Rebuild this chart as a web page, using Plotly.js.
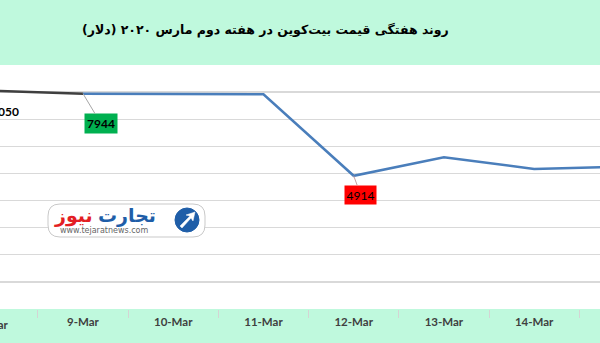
<!DOCTYPE html>
<html>
<head>
<meta charset="utf-8">
<script src="https://cdn.plot.ly/plotly-3.0.1.min.js"></script>
<style>html,body{margin:0;padding:0;background:#fff;}#chart{width:600px;height:343px;}</style>
</head>
<body>
<div id="chart"></div>
<script>
// ---- data ----
var categories = ['8-Mar', '9-Mar', '10-Mar', '11-Mar', '12-Mar', '13-Mar', '14-Mar', '15-Mar'];
var prices = [8050, 7944, 7920, 7918, 4914, 5600, 5165, 5250];
var titleText = 'روند هفتگی قیمت بیت\u200cکوین در هفته دوم مارس ۲۰۲۰ (دلار)';
var logoBrand1 = 'تجارت';
var logoBrand2 = 'نیوز';
var logoUrl = 'www.tejaratnews.com';

// ---- layout helpers ----
var W = 600, H = 343, T = 65, B = 34;
var xRange = [0.08, 6.73];
var ph = H - T - B;
function px(x) { return x / W; }
function py(y) { return (H - B - y) / ph; }

var traces = [
  { type: 'scatter', mode: 'lines', x: categories.slice(0, 2), y: prices.slice(0, 2),
    line: { color: '#3f3f3f', width: 2.5 }, hoverinfo: 'skip', showlegend: false },
  { type: 'scatter', mode: 'lines', x: categories.slice(1), y: prices.slice(1),
    line: { color: '#4a7ebb', width: 2.5 }, hoverinfo: 'skip', showlegend: false }
];

var lblFont = { family: 'Lato, "Open Sans", sans-serif', size: 12, color: '#000' };
var tickFont = { family: 'Lato, sans-serif', size: 11.5, color: '#404040', weight: 'bold' };

var annotations = [
  { text: titleText, xref: 'paper', yref: 'paper', x: px(265), y: py(30), xanchor: 'center', yanchor: 'middle',
    showarrow: false, font: { family: '"DejaVu Sans", sans-serif', size: 12.5, color: '#000', weight: 'bold' } },
  // data labels
  { text: String(prices[0]), xref: 'x', yref: 'y', x: categories[0], y: prices[0], axref: 'x', ax: 0.135, ay: 21,
    showarrow: true, arrowhead: 0, arrowwidth: 1, arrowcolor: '#a6a6a6',
    font: Object.assign({}, lblFont, { weight: 'bold' }) },
  { text: String(prices[1]), xref: 'x', yref: 'y', x: categories[1], y: prices[1], ax: 18, ay: 30,
    showarrow: true, arrowhead: 0, arrowwidth: 1, arrowcolor: '#a6a6a6', bgcolor: '#00b050', borderpad: 2,
    font: Object.assign({}, lblFont, { weight: 'bold' }) },
  { text: String(prices[4]), xref: 'x', yref: 'y', x: categories[4], y: prices[4], ax: 7, ay: 19,
    showarrow: true, arrowhead: 0, arrowwidth: 1, arrowcolor: '#c8a0a0', bgcolor: '#ff0000', borderpad: 1.5,
    font: lblFont },
  // first category label (its tick lies left of the visible range)
  { text: categories[0], xref: 'paper', yref: 'paper', x: (0 - xRange[0]) / (xRange[1] - xRange[0]), y: py(324),
    xanchor: 'center', yanchor: 'middle', showarrow: false, font: tickFont },
  // watermark logo
  { text: logoBrand1, xref: 'paper', yref: 'paper', x: px(127), y: py(215), xanchor: 'center', yanchor: 'middle',
    showarrow: false, font: { family: '"DejaVu Sans", sans-serif', size: 19, color: '#1f5ea8', weight: 'bold' } },
  { text: logoBrand2, xref: 'paper', yref: 'paper', x: px(73), y: py(215), xanchor: 'center', yanchor: 'middle',
    showarrow: false, font: { family: '"DejaVu Sans", sans-serif', size: 19, color: '#e31e24', weight: 'bold' } },
  { text: logoUrl, xref: 'paper', yref: 'paper', x: px(104), y: py(230.5), xanchor: 'center', yanchor: 'middle',
    showarrow: false, font: { family: '"DejaVu Sans", sans-serif', size: 8, color: '#666' } }
];

function rr(x0, y0, x1, y1, r) {
  return 'M' + px(x0 + r) + ',' + py(y0) + ' L' + px(x1 - r) + ',' + py(y0) +
    ' Q' + px(x1) + ',' + py(y0) + ' ' + px(x1) + ',' + py(y0 + r) +
    ' L' + px(x1) + ',' + py(y1 - r) +
    ' Q' + px(x1) + ',' + py(y1) + ' ' + px(x1 - r) + ',' + py(y1) +
    ' L' + px(x0 + r) + ',' + py(y1) +
    ' Q' + px(x0) + ',' + py(y1) + ' ' + px(x0) + ',' + py(y1 - r) +
    ' L' + px(x0) + ',' + py(y0 + r) +
    ' Q' + px(x0) + ',' + py(y0) + ' ' + px(x0 + r) + ',' + py(y0) + ' Z';
}
function poly(pts) {
  return 'M' + pts.map(function (p) { return px(p[0]) + ',' + py(p[1]); }).join(' L') + ' Z';
}

var shapes = [
  { type: 'path', xref: 'paper', yref: 'paper', path: rr(48, 204, 205, 237, 12),
    fillcolor: '#ffffff', line: { color: '#c9c9c9', width: 1 } },
  { type: 'circle', xref: 'paper', yref: 'paper', x0: px(175), x1: px(199), y0: py(232), y1: py(208),
    fillcolor: '#1f5ea8', line: { color: '#1f5ea8', width: 1 } },
  { type: 'path', xref: 'paper', yref: 'paper',
    path: poly([[180, 226], [190, 216], [186, 215], [195, 212], [193, 221], [191, 218], [182, 228]]),
    fillcolor: '#ffffff', line: { color: '#ffffff', width: 0.5 } }
];

var layout = {
  width: W, height: H,
  margin: { l: 0, r: 0, t: T, b: B, pad: 0 },
  paper_bgcolor: '#bff9dd',
  plot_bgcolor: '#ffffff',
  showlegend: false,
  xaxis: {
    type: 'category', range: xRange, tickson: 'boundaries', ticks: 'outside', ticklen: 8,
    tickcolor: '#d4d4d4', tickwidth: 1, showgrid: false, showline: false, zeroline: false,
    ticklabelstandoff: 4, tickfont: tickFont, fixedrange: true
  },
  yaxis: {
    range: [0, 9000], dtick: 1000, showticklabels: false, ticks: '',
    gridcolor: '#d9d9d9', gridwidth: 1.4, zeroline: false, showline: false, fixedrange: true
  },
  annotations: annotations,
  shapes: shapes
};

Plotly.newPlot('chart', traces, layout, { displayModeBar: false, staticPlot: true });
</script>
</body>
</html>
